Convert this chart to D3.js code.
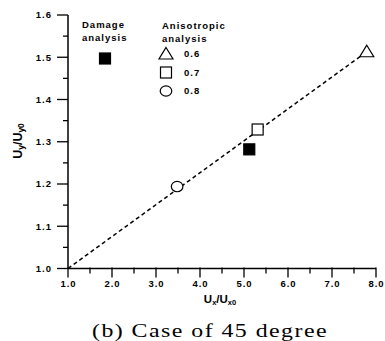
<!DOCTYPE html>
<html><head><meta charset="utf-8">
<script src="https://cdn.jsdelivr.net/npm/d3@7"></script>
<style>
body{margin:0;background:#fff;}
svg{display:block;}
.tk{font-family:"Liberation Sans",Arial,sans-serif;font-weight:bold;font-size:9.5px;letter-spacing:1px;fill:#000;}
.lg{font-family:"Liberation Sans",Arial,sans-serif;font-weight:bold;font-size:9.5px;letter-spacing:1px;fill:#000;}
</style></head>
<body>
<script>
// ---- data ----
const xTicks = [1,2,3,4,5,6,7,8];
const yTicks = [1.0,1.1,1.2,1.3,1.4,1.5,1.6];
const anisoLabels = ["0.6","0.7","0.8"];
const anisoShapes = ["triangle","square","circle"];
const anisoX = [7.79, 5.31, 3.48];
const anisoY = [1.513, 1.329, 1.194];
const damageX = [5.12];
const damageY = [1.282];
const fitLineX = [1.0, 7.79];
const fitLineY = [1.0, 1.513];

const W=385,H=341;
const svg=d3.select("body").append("svg").attr("width",W).attr("height",H);
const x=d3.scaleLinear().domain([1,8]).range([68,376]);
const y=d3.scaleLinear().domain([1,1.6]).range([268.5,15]);

// axes
const gx=svg.append("g").attr("transform",`translate(0,${y(1)})`);
gx.append("line").attr("x1",x(1)).attr("x2",x(8)).attr("stroke","#000").attr("stroke-width",1.5);
gx.selectAll("line.t").data(d3.range(1,8.01,0.5)).join("line").attr("class","t")
  .attr("x1",d=>x(d)).attr("x2",d=>x(d)).attr("y1",-1).attr("y2",d=>Number.isInteger(d)?9:5)
  .attr("stroke","#000").attr("stroke-width",1.3);
gx.selectAll("text").data(xTicks).join("text").attr("class","tk")
  .attr("x",d=>x(d)+0.5).attr("y",18).attr("text-anchor","middle").text(d=>d.toFixed(1));

const gy=svg.append("g");
gy.append("line").attr("x1",x(1)).attr("x2",x(1)).attr("y1",y(1)).attr("y2",y(1.6)).attr("stroke","#000").attr("stroke-width",1.5);
gy.selectAll("line.t").data(d3.range(1,1.601,0.05)).join("line").attr("class","t")
  .attr("y1",d=>y(d)).attr("y2",d=>y(d)).attr("x1",d=>Math.abs(d*10-Math.round(d*10))<1e-6?x(1)-11:x(1)-5).attr("x2",x(1))
  .attr("stroke","#000").attr("stroke-width",1.3);
gy.selectAll("text").data(yTicks).join("text").attr("class","tk")
  .attr("x",52).attr("y",d=>y(d)).attr("dy","0.35em").attr("text-anchor","end").text(d=>d.toFixed(1));

// axis titles
const xt=svg.append("text").attr("x",220).attr("y",303).attr("text-anchor","middle")
  .attr("font-family","Liberation Sans,Arial,sans-serif").attr("font-weight","bold").attr("font-size",11.5);
xt.append("tspan").text("U");
xt.append("tspan").attr("font-size",7.5).attr("dy",2).text("x");
xt.append("tspan").attr("dy",-2).text("/U");
xt.append("tspan").attr("font-size",7.5).attr("dy",2).text("x0");

const yt=svg.append("text").attr("transform","translate(22,141) rotate(-90)").attr("text-anchor","middle")
  .attr("font-family","Liberation Sans,Arial,sans-serif").attr("font-weight","bold").attr("font-size",12.5);
yt.append("tspan").text("U");
yt.append("tspan").attr("font-size",8.5).attr("dy",2).text("y");
yt.append("tspan").attr("dy",-2).text("/U");
yt.append("tspan").attr("font-size",8.5).attr("dy",2).text("y0");

// dashed fit line
svg.append("line").attr("x1",x(fitLineX[0])).attr("y1",y(fitLineY[0])).attr("x2",x(fitLineX[1])).attr("y2",y(fitLineY[1]))
  .attr("stroke","#000").attr("stroke-width",1.5).attr("stroke-dasharray","4,3");

// marker drawer
function marker(g,shape,cx,cy,filled){
  const s={fill:filled?"#000":"#fff",stroke:"#000","stroke-width":1.2};
  let el;
  if(shape==="triangle"){
    el=g.append("path").attr("d",`M${cx},${cy-6.5}L${cx+7},${cy+5}L${cx-7},${cy+5}Z`);
  }else if(shape==="square"){
    el=g.append("rect").attr("x",cx-5.5).attr("y",cy-5.5).attr("width",11).attr("height",11);
  }else{
    el=g.append("ellipse").attr("cx",cx).attr("cy",cy).attr("rx",5.8).attr("ry",5.2);
  }
  for(const k in s) el.attr(k,s[k]);
}
const gm=svg.append("g");
anisoX.forEach((d,i)=>marker(gm,anisoShapes[i],x(d),y(anisoY[i]),false));
damageX.forEach((d,i)=>marker(gm,"square",x(d),y(damageY[i]),true));

// legend
const lg=svg.append("g");
lg.append("text").attr("class","lg").attr("x",82).attr("y",28).text("Damage");
lg.append("text").attr("class","lg").attr("x",82).attr("y",41).text("analysis");
marker(lg,"square",105,58.5,true);
lg.append("text").attr("class","lg").attr("x",162).attr("y",29).text("Anisotropic");
lg.append("text").attr("class","lg").attr("x",162).attr("y",42).text("analysis");
const legY=[54,72.5,91];
anisoLabels.forEach((l,i)=>{
  marker(lg,anisoShapes[i],166,legY[i],false);
  lg.append("text").attr("class","lg").attr("x",184).attr("y",legY[i]).attr("dy","0.35em").text(l);
});

// caption
svg.append("text").attr("x",92).attr("y",336.5).attr("font-family","Liberation Serif,Times New Roman,serif")
  .attr("font-size",19.5).attr("letter-spacing","1.2px").attr("textLength",236).attr("lengthAdjust","spacingAndGlyphs").attr("fill","#000")
  .text("(b) Case of 45 degree");
</script>
</body></html>
